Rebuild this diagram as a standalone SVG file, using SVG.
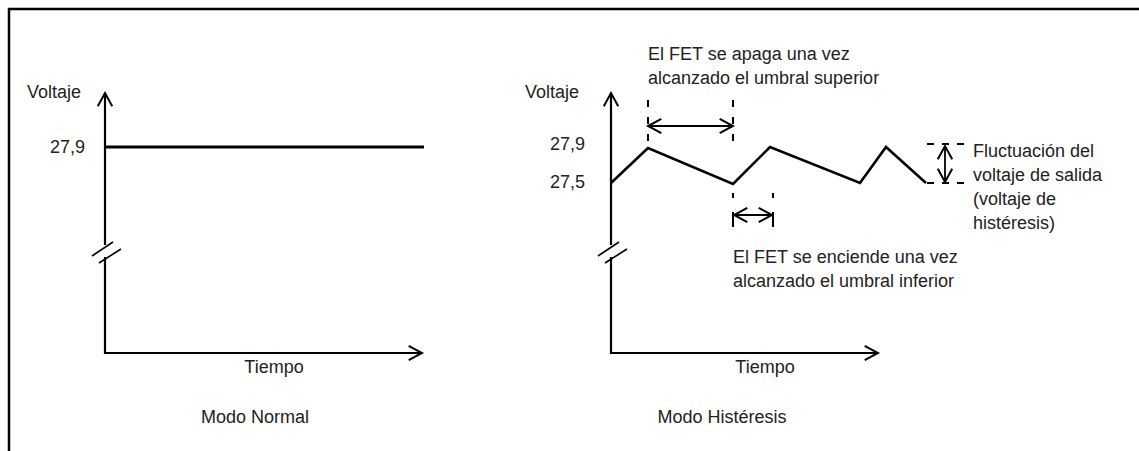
<svg xmlns="http://www.w3.org/2000/svg" width="1139" height="451" viewBox="0 0 1139 451">
<style>
text{font-family:"Liberation Sans",Arial,sans-serif;font-size:18px;fill:#222}
.ax{stroke:#000;stroke-width:2.2;fill:none}
.wave{stroke:#000;stroke-width:2.6;fill:none;stroke-linejoin:miter}
.dim{stroke:#000;stroke-width:1.8;fill:none}
.dash{stroke:#000;stroke-width:2;fill:none;stroke-dasharray:7 10}
.hdash{stroke:#000;stroke-width:2;fill:none;stroke-dasharray:7 8}
</style>
<defs>
<marker id="ah" markerUnits="userSpaceOnUse" markerWidth="20" markerHeight="20" viewBox="-15 -9 18 18" refX="0" refY="0" orient="auto-start-reverse" overflow="visible">
<path d="M-12,-6.5 L0,0 L-12,6.5" fill="none" stroke="#000" stroke-width="1.8"/>
</marker>
</defs>
<rect width="1139" height="451" fill="#fff"/>
<g id="frame">
<path d="M9,451 L9,9 L1139,9" fill="none" stroke="#000" stroke-width="2.5"/>
</g>
<g id="normal-chart">
<path class="ax" d="M105,245 L105,93" marker-end="url(#ah)"/>
<path class="ax" d="M105,257 L105,353 L422,353" marker-end="url(#ah)"/>
<path d="M92,256 L113,242 M99,263 L121,249" stroke="#000" stroke-width="1.6" fill="none"/>
<path d="M105,147 L424,147" stroke="#000" stroke-width="3" fill="none"/>
<text x="27" y="98">Voltaje</text>
<text x="85" y="153" text-anchor="end">27,9</text>
<text x="274" y="373" text-anchor="middle">Tiempo</text>
<text x="255" y="423" text-anchor="middle">Modo Normal</text>
</g>
<g id="hysteresis-chart">
<path class="ax" d="M611,245 L611,93" marker-end="url(#ah)"/>
<path class="ax" d="M611,257 L611,353 L878,353" marker-end="url(#ah)"/>
<path d="M598,256 L619,242 M605,263 L627,249" stroke="#000" stroke-width="1.6" fill="none"/>
<text x="525" y="98">Voltaje</text>
<text x="585" y="150" text-anchor="end">27,9</text>
<text x="585" y="188" text-anchor="end">27,5</text>
<text x="765" y="373" text-anchor="middle">Tiempo</text>
<text x="722" y="423" text-anchor="middle">Modo Histéresis</text>
</g>
<g id="waveform">
<polyline class="wave" points="611,183 648,148 733,184 770,147 860,183 886,147 926,183"/>
</g>
<g id="connectors">
<path class="dash" d="M648,100 L648,143"/>
<path class="dash" d="M733,100 L733,143"/>
<path class="dim" d="M648,126 L733,126" marker-start="url(#ah)" marker-end="url(#ah)"/>
<path class="dash" d="M733,193 L733,236" style="stroke-dasharray:5 14 15 10"/>
<path class="dash" d="M773,193 L773,236" style="stroke-dasharray:5 14 15 10"/>
<path class="dim" d="M734,215 L772,215" marker-start="url(#ah)" marker-end="url(#ah)"/>
<path class="hdash" d="M927,144 L966,144"/>
<path class="hdash" d="M927,183 L966,183"/>
<path class="dim" d="M945,146 L945,182" marker-start="url(#ah)" marker-end="url(#ah)"/>
</g>
<g id="label-off">
<text x="648" y="60">El FET se apaga una vez</text>
<text x="648" y="84">alcanzado el umbral superior</text>
</g>
<g id="label-on">
<text x="733" y="263">El FET se enciende una vez</text>
<text x="733" y="287">alcanzado el umbral inferior</text>
</g>
<g id="label-fluct">
<text x="973" y="157">Fluctuación del</text>
<text x="973" y="181">voltaje de salida</text>
<text x="973" y="205">(voltaje de</text>
<text x="973" y="229">histéresis)</text>
</g>
</svg>
